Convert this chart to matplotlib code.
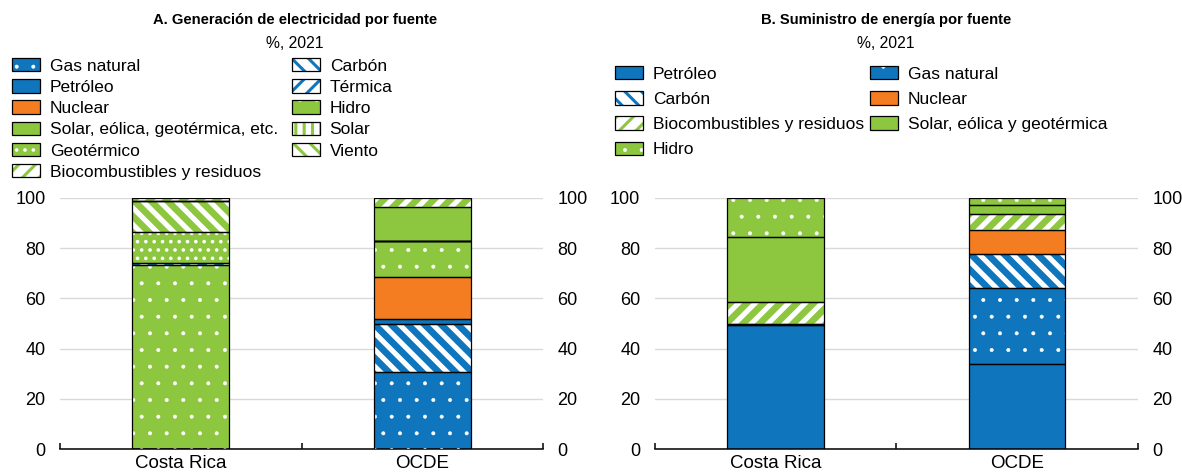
import matplotlib
matplotlib.use("Agg")
import matplotlib.pyplot as plt
from matplotlib.patches import Patch, Rectangle
from matplotlib.legend_handler import HandlerTuple
from matplotlib.ticker import FixedLocator

plt.rcParams["font.family"] = ["Liberation Sans", "DejaVu Sans"]

BLUE = "#0F75BC"
GREEN = "#8DC63F"
ORANGE = "#F47D21"

cats = ["Costa Rica", "OCDE"]

# A. Generación de electricidad por fuente (%, 2021), apilado de abajo a arriba
gas_a = [0, 30.6]
carbon_a = [0, 19.3]
petroleo_a = [0, 1.8]
nuclear_a = [0, 17.0]
hidro_a = [73.5, 14.2]
termica_a = [0.5, 0]
geotermico_a = [12.6, 0]
viento_a = [12.2, 0]
solar_a = [0.1, 0]
sol_eol_geo_a = [0, 13.5]
bio_a = [1.1, 3.6]

# B. Suministro de energía por fuente (%, 2021)
petroleo_b = [49.3, 33.8]
gas_b = [0, 30.5]
carbon_b = [0.4, 13.3]
nuclear_b = [0, 9.5]
bio_b = [8.7, 6.7]
sol_eol_geo_b = [26.1, 3.3]
hidro_b = [15.5, 2.9]

# estilos: (relleno, trama, color de trama, grosor de trama)
STY = {
    "gas": (BLUE, ".", "white", 0.4),
    "petroleo": (BLUE, None, None, 0),
    "nuclear": (ORANGE, None, None, 0),
    "sol_eol_geo": (GREEN, None, None, 0),
    "geotermico": (GREEN, "..", "white", 1.4),
    "bio": ("white", "//", GREEN, 4.8),
    "carbon": ("white", "\\\\", BLUE, 4.8),
    "termica": ("white", "//", BLUE, 4.8),
    "hidro": (GREEN, ".", "white", 0.4),
    "solar": ("white", "||", GREEN, 2.5),
    "viento": ("white", "\\\\", GREEN, 4.8),
}
HATCH_LW = {h: lw for _, h, _, lw in STY.values() if h}


def layers(key):
    face, hatch, hcol, hlw = STY[key]
    out = [dict(facecolor=face, edgecolor="none", linewidth=0)]
    if hatch:
        out.append(dict(facecolor="none", edgecolor=hcol, linewidth=0,
                        hatch=hatch, hlw=hlw))
    out.append(dict(facecolor="none", edgecolor="black", linewidth=0.9))
    return out


def apply_hlw(p, hlw):
    if hasattr(p, "set_hatch_linewidth"):
        p.set_hatch_linewidth(hlw)


def stacked(ax, series):
    bottoms = [0.0] * len(cats)
    x = list(range(len(cats)))
    for key, vals in series:
        for z, lay in enumerate(layers(key)):
            lay = dict(lay)
            hlw = lay.pop("hlw", None)
            with plt.rc_context({"hatch.linewidth": hlw or 1.0}):
                bars = ax.bar(x, vals, 0.4, bottom=bottoms, zorder=2 + z, **lay)
            if hlw:
                for p in bars:
                    apply_hlw(p, hlw)
        bottoms = [b + v for b, v in zip(bottoms, vals)]


def handle(key):
    hs = []
    for lay in layers(key):
        lay = dict(lay)
        lay.pop("hlw", None)
        hs.append(Patch(**lay))
    return tuple(hs)


def style_axes(ax):
    ax.set_xlim(-0.5, 1.5)
    ax.set_ylim(0, 100)
    ax.set_yticks(range(0, 101, 20))
    ax.yaxis.grid(True, color="#D9D9D9", linewidth=1.0, zorder=0)
    ax.set_axisbelow(True)
    for s in ["left", "right", "top"]:
        ax.spines[s].set_visible(False)
    ax.spines["bottom"].set_linewidth(1.1)
    ax.tick_params(axis="y", left=False, right=False, labelleft=True,
                   labelright=True, labelsize=13, pad=7)
    ax.set_xticks(range(len(cats)))
    ax.set_xticklabels(cats)
    ax.tick_params(axis="x", which="major", length=0, labelsize=13.5, pad=4)
    ax.xaxis.set_minor_locator(FixedLocator([-0.5, 0.5, 1.5]))
    ax.tick_params(axis="x", which="minor", direction="in", length=4.5,
                   width=1.1)


fig = plt.figure(figsize=(11.82, 4.75), dpi=100)
ax_a = fig.add_axes([0.0508, 0.0547, 0.4086, 0.5285])
ax_b = fig.add_axes([0.5541, 0.0547, 0.4086, 0.5285])

stacked(ax_a, [("gas", gas_a), ("carbon", carbon_a), ("petroleo", petroleo_a),
               ("nuclear", nuclear_a), ("hidro", hidro_a), ("termica", termica_a),
               ("geotermico", geotermico_a), ("viento", viento_a),
               ("solar", solar_a), ("sol_eol_geo", sol_eol_geo_a),
               ("bio", bio_a)])
stacked(ax_b, [("petroleo", petroleo_b), ("gas", gas_b), ("carbon", carbon_b),
               ("nuclear", nuclear_b), ("bio", bio_b),
               ("sol_eol_geo", sol_eol_geo_b), ("hidro", hidro_b)])
style_axes(ax_a)
style_axes(ax_b)

W, H = 1182, 475
fig.text(295 / W, 1 - 20 / H, "A. Generación de electricidad por fuente",
         ha="center", va="center", fontsize=10.6, fontweight="bold")
fig.text(295 / W, 1 - 43 / H, "%, 2021", ha="center", va="center", fontsize=11.3)
fig.text(886 / W, 1 - 20 / H, "B. Suministro de energía por fuente",
         ha="center", va="center", fontsize=10.6, fontweight="bold")
fig.text(886 / W, 1 - 43 / H, "%, 2021", ha="center", va="center", fontsize=11.3)

legend_cols = [
    (12, 58, 0.32, [("gas", "Gas natural"), ("petroleo", "Petróleo"),
                    ("nuclear", "Nuclear"),
                    ("sol_eol_geo", "Solar, eólica, geotérmica, etc."),
                    ("geotermico", "Geotérmico"),
                    ("bio", "Biocombustibles y residuos")]),
    (292, 58, 0.32, [("carbon", "Carbón"), ("termica", "Térmica"),
                     ("hidro", "Hidro"), ("solar", "Solar"),
                     ("viento", "Viento")]),
    (615, 66, 0.55, [("petroleo", "Petróleo"), ("carbon", "Carbón"),
                     ("bio", "Biocombustibles y residuos"), ("hidro", "Hidro")]),
    (870, 66, 0.55, [("gas", "Gas natural"), ("nuclear", "Nuclear"),
                     ("sol_eol_geo", "Solar, eólica y geotérmica")]),
]
for x0, y0, sp, items in legend_cols:
    leg = fig.legend([handle(k) for k, _ in items], [t for _, t in items],
                     loc="upper left", bbox_to_anchor=(x0 / W, 1 - y0 / H),
                     frameon=False, fontsize=12.5, borderpad=0, borderaxespad=0,
                     handlelength=1.6, handleheight=0.8, handletextpad=0.57,
                     labelspacing=sp,
                     handler_map={tuple: HandlerTuple(ndivide=1, pad=0)})
    # el grosor de la trama no pasa a los parches de la leyenda
    for r in leg.findobj(Rectangle):
        h = r.get_hatch()
        if h in HATCH_LW:
            apply_hlw(r, min(HATCH_LW[h], 2.2))

fig.savefig("out.png", dpi=100)
